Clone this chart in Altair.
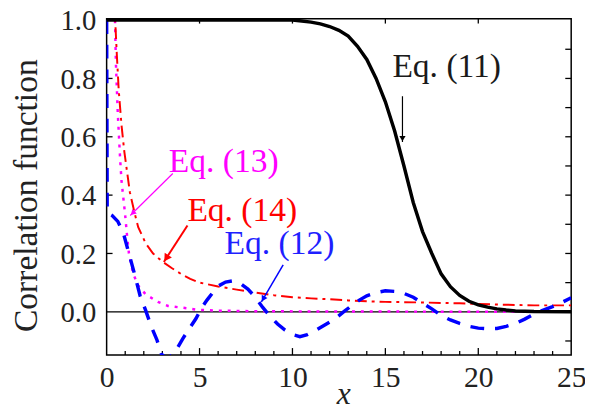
import math
import altair as alt
import pandas as pd

# ---------------- data ----------------
x11 = [0, 10, 10.5, 11, 11.5, 12, 12.5, 13, 13.5, 14, 14.5, 15, 15.5, 16, 16.5, 17,
       17.5, 18, 18.5, 19, 19.5, 20, 20.5, 21, 21.5, 22, 23, 25]
y11 = [1.0, 1.0, 0.997, 0.993, 0.987, 0.978, 0.965, 0.945, 0.91, 0.865, 0.8, 0.72,
       0.62, 0.5, 0.375, 0.275, 0.2, 0.13, 0.086, 0.056, 0.036, 0.024, 0.016, 0.01,
       0.006, 0.003, 0.001, 0.0]

x12 = [0, 0.03, 0.3, 0.6, 0.9, 1.2, 1.5, 1.8, 2.1, 2.4, 2.7, 2.95, 3.2, 3.5, 3.8, 4.1,
       4.4, 4.8, 5.1, 5.4, 5.7, 6.0, 6.4, 6.8, 7.2, 7.6, 8.0, 8.4, 8.8, 9.2, 9.6, 10.0,
       10.4, 10.8, 11.2, 11.6, 12.0, 12.4, 12.8, 13.2, 13.6, 14.0, 14.5, 15.0, 15.5,
       16.0, 16.5, 17.0, 17.5, 18.0, 18.5, 19.0, 19.5, 20.0, 20.5, 21.0, 21.5, 22.0,
       22.5, 23.0, 23.5, 24.0, 24.5, 25.0]
y12 = [1.0, 0.34, 0.33, 0.31, 0.27, 0.2, 0.13, 0.055, 0.005, -0.05, -0.095, -0.145,
       -0.16, -0.15, -0.125, -0.092, -0.062, -0.024, 0.012, 0.04, 0.065, 0.088, 0.102,
       0.106, 0.097, 0.078, 0.05, 0.015, -0.015, -0.042, -0.063, -0.078, -0.085, -0.078,
       -0.065, -0.05, -0.035, -0.018, 0.002, 0.022, 0.04, 0.055, 0.066, 0.072, 0.07,
       0.063, 0.05, 0.03, 0.01, -0.012, -0.028, -0.04, -0.05, -0.056, -0.058, -0.057,
       -0.05, -0.04, -0.025, -0.008, 0.006, 0.018, 0.032, 0.048]

x13 = [0.42, 0.45, 0.5, 0.6, 0.73, 0.8, 0.9, 1.0, 1.1, 1.2, 1.43, 1.7, 2.1, 2.76, 3.3,
       4.35, 4.9, 6, 8, 12, 18, 25]
y13 = [1.06, 1.0, 0.85, 0.68, 0.52, 0.45, 0.39, 0.33, 0.26, 0.2, 0.13, 0.09, 0.06,
       0.034, 0.02, 0.012, 0.007, 0.004, 0.002, 0.001, 0.0005, 0.0]

x14 = [0.43, 0.46, 0.55, 0.65, 0.8, 0.95, 1.1, 1.25, 1.5, 1.7, 2.1, 2.5, 3.0, 3.5, 4.0,
       4.5, 5.0, 6, 7, 8, 9, 10, 11, 12, 13, 14, 15, 17, 19, 21, 23, 25]
y14 = [1.06, 1.0, 0.88, 0.76, 0.64, 0.55, 0.48, 0.41, 0.34, 0.29, 0.235, 0.2, 0.172,
       0.15, 0.13, 0.113, 0.1, 0.087, 0.076, 0.066, 0.057, 0.05, 0.046, 0.043, 0.039,
       0.036, 0.034, 0.032, 0.029, 0.025, 0.022, 0.022]

ann_text = ["Eq. (11)", "Eq. (13)", "Eq. (14)", "Eq. (12)"]
ann_x = [18.3, 6.3, 7.3, 9.3]
ann_y = [0.84, 0.514, 0.346, 0.232]
ann_color = ["#1a1a1a", "#ff00ff", "#ff0000", "#1f1fff"]
arr_x0 = [15.92, 3.56, 4.35, 9.5]
arr_y0 = [0.739, 0.474, 0.296, 0.161]
arr_x1 = [15.92, 1.27, 3.08, 8.33]
arr_y1 = [0.582, 0.33, 0.171, 0.034]
arr_color = ["#000000", "#ff00ff", "#ff0000", "#0000ff"]
arr_width = [1.2, 1.2, 2.0, 1.5]
arr_head = [40, 40, 75, 45]

x_ticks = [0, 5, 10, 15, 20, 25]
y_ticks = [0.0, 0.2, 0.4, 0.6, 0.8, 1.0]
bottom_minor = [1, 2, 3, 4, 6, 7, 8, 9, 11, 12, 13, 14, 16, 17, 18, 19, 21, 22, 23, 24]
bottom_major = [5, 10, 15, 20]
top_major = [5, 10, 15, 20]
left_ticks = [0.2, 0.4, 0.6, 0.8]
right_ticks = [-0.1, 0.1, 0.2, 0.3, 0.4, 0.5, 0.6, 0.7, 0.8, 0.9]

# ---------------- layout ----------------
W, H = 471, 341
XD = [0, 25]
YD = [-0.148, 1.005]
FONT = "Liberation Serif"

xs = alt.Scale(domain=XD, nice=False, zero=False)
ys = alt.Scale(domain=YD, nice=False, zero=False)

x_axis = alt.Axis(title="x", titleFont=FONT, titleFontStyle="italic", titleFontSize=32,
                  titleFontWeight="normal", titleColor="#222222", titleX=240, titleY=49,
                  titleBaseline="alphabetic", values=x_ticks, format="d", labelFont=FONT,
                  labelFontSize=30, labelColor="#222222", labelPadding=32,
                  labelBaseline="alphabetic", ticks=False, tickSize=0, domain=False,
                  grid=False, labelFlush=False, labelOverlap=False)
y_axis = alt.Axis(title="Correlation function", titleFont=FONT, titleFontSize=34,
                  titleFontWeight="normal", titleColor="#222222", titleAngle=270,
                  titleX=-71, titleY=179, titleBaseline="alphabetic", titleAlign="center",
                  values=y_ticks, format=".1f", labelFont=FONT, labelFontSize=29,
                  labelColor="#222222", labelPadding=11, labelOffset=1, ticks=False,
                  tickSize=0, domain=False, grid=False, labelFlush=False,
                  labelOverlap=False)


def X(f):
    return alt.X(f, type="quantitative", scale=xs, axis=x_axis)


def Y(f):
    return alt.Y(f, type="quantitative", scale=ys, axis=y_axis)


d11 = pd.DataFrame({"x": x11, "y": y11})
d12 = pd.DataFrame({"x": x12, "y": y12})
d13 = pd.DataFrame({"x": x13, "y": y13})
d14 = pd.DataFrame({"x": x14, "y": y14})

zero = alt.Chart(pd.DataFrame({"y": [0.0]})).mark_rule(color="black", strokeWidth=1.3).encode(
    y=Y("y"))

l13 = alt.Chart(d13).mark_line(color="#ff00ff", strokeWidth=2.5, strokeDash=[3, 6],
                               clip=True).encode(x=X("x"), y=Y("y"))
l14 = alt.Chart(d14).mark_line(color="#ff0000", strokeWidth=2, strokeDash=[12, 5, 3, 5],
                               clip=True).encode(x=X("x"), y=Y("y"))
l12 = alt.Chart(d12).mark_line(color="#0000ff", strokeWidth=3.5, strokeDash=[14, 11],
                               clip=True).encode(x=X("x"), y=Y("y"))
l11 = alt.Chart(d11).mark_line(color="black", strokeWidth=3.5, clip=True).encode(
    x=X("x"), y=Y("y"))

# annotations
sx = W / (XD[1] - XD[0])
sy = H / (YD[1] - YD[0])
rows = []
for i in range(len(ann_text)):
    dxp = (arr_x1[i] - arr_x0[i]) * sx
    dyp = -(arr_y1[i] - arr_y0[i]) * sy
    L = math.hypot(dxp, dyp)
    ang = math.degrees(math.atan2(dxp, -dyp)) % 360
    back = 3.5 if arr_head[i] < 60 else 4.5
    hx = arr_x1[i] - dxp / L * back / sx
    hy = arr_y1[i] + dyp / L * back / sy
    rows.append({"x0": arr_x0[i], "y0": arr_y0[i], "x1": arr_x1[i], "y1": arr_y1[i],
                 "hx": hx, "hy": hy, "ang": ang, "c": arr_color[i], "w": arr_width[i],
                 "s": arr_head[i], "tx": ann_x[i], "ty": ann_y[i], "t": ann_text[i],
                 "tc": ann_color[i]})
ann = pd.DataFrame(rows)

arrows = alt.Chart(ann).mark_rule().encode(
    x=X("x0"), y=Y("y0"), x2="x1", y2="y1",
    color=alt.Color("c:N", scale=None), strokeWidth=alt.StrokeWidth("w:Q", scale=None))
heads = alt.Chart(ann).mark_point(shape="triangle-up", filled=True, opacity=1).encode(
    x=X("hx"), y=Y("hy"), angle=alt.Angle("ang:Q", scale=None),
    color=alt.Color("c:N", scale=None), size=alt.Size("s:Q", scale=None))
labels = alt.Chart(ann).mark_text(font=FONT, fontSize=34, baseline="middle",
                                  align="center").encode(
    x=X("tx"), y=Y("ty"), text="t:N", color=alt.Color("tc:N", scale=None))

# frame ticks (inward)
tick_style = dict(color="black", strokeWidth=1.3)
t_bmin = alt.Chart(pd.DataFrame({"t": bottom_minor})).mark_rule(**tick_style).encode(
    x=X("t"), y=alt.value(H), y2=alt.value(H - 4))
t_bmaj = alt.Chart(pd.DataFrame({"t": bottom_major})).mark_rule(**tick_style).encode(
    x=X("t"), y=alt.value(H), y2=alt.value(H - 7))
t_top = alt.Chart(pd.DataFrame({"t": top_major})).mark_rule(**tick_style).encode(
    x=X("t"), y=alt.value(0), y2=alt.value(5))
t_left = alt.Chart(pd.DataFrame({"t": left_ticks})).mark_rule(**tick_style).encode(
    y=Y("t"), x=alt.value(0), x2=alt.value(6))
t_right = alt.Chart(pd.DataFrame({"t": right_ticks})).mark_rule(**tick_style).encode(
    y=Y("t"), x=alt.value(W), x2=alt.value(W - 6))

chart = alt.layer(
    zero, t_bmin, t_bmaj, t_top, t_left, t_right,
    l13, l14, l12, l11, arrows, heads, labels
).properties(
    width=W, height=H,
    padding={"left": 100, "top": 8, "right": 14, "bottom": 53},
    autosize=alt.AutoSizeParams(type="none"),
    background="white",
).configure_view(stroke="black", strokeWidth=1.5)

chart.save("out.html", embed_options={"renderer": "svg", "actions": False})
